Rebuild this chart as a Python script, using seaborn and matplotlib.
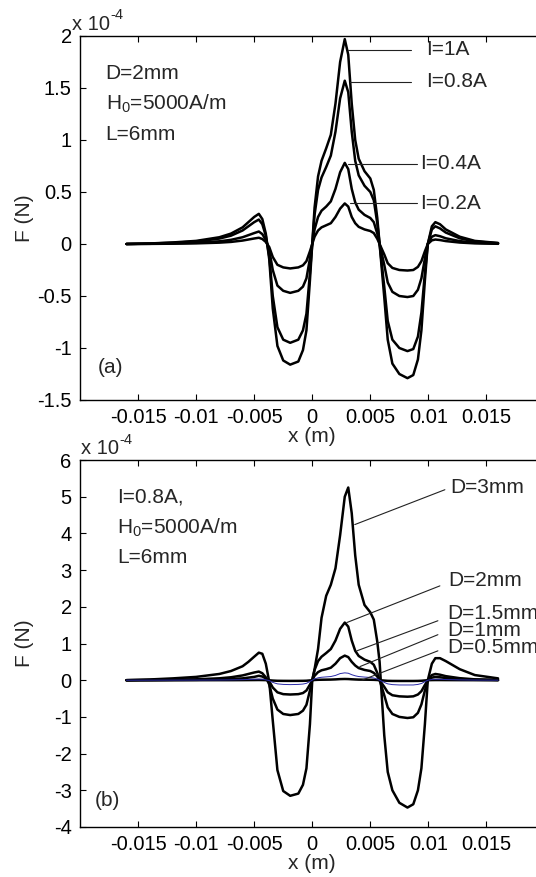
import numpy as np
import pandas as pd
import matplotlib
matplotlib.use('Agg')
import matplotlib.pyplot as plt
import seaborn as sns

# x positions (m), shared by every curve
x_m = [-0.016, -0.014, -0.012, -0.010, -0.008, -0.007, -0.006, -0.0055, -0.005, -0.0046,
       -0.0043, -0.004, -0.0037, -0.0034, -0.003, -0.0025, -0.0019, -0.0012, -0.0008, -0.0005,
       -0.0002, 0.0, 0.0002, 0.0005, 0.0008, 0.0012, 0.0016, 0.002, 0.0024, 0.0028,
       0.0031, 0.0034, 0.0037, 0.004, 0.0045, 0.005, 0.0053, 0.0056, 0.0058, 0.0062,
       0.0065, 0.0069, 0.0075, 0.0082, 0.0087, 0.0091, 0.0094, 0.0097, 0.00995, 0.0103,
       0.0106, 0.011, 0.0115, 0.0127, 0.014, 0.016]

# panel (a): force in units of 1e-4 N, one list per current
f_i1 = [0.0, 0.005, 0.015, 0.03, 0.065, 0.1, 0.16, 0.21, 0.26, 0.29,
        0.24, 0.1, -0.15, -0.62, -0.98, -1.12, -1.16, -1.13, -1.02, -0.83,
        -0.35, 0.0, 0.35, 0.65, 0.8, 0.92, 1.05, 1.35, 1.75, 1.97,
        1.82, 1.35, 1.0, 0.82, 0.7, 0.63, 0.52, 0.25, 0.0, -0.51,
        -0.92, -1.15, -1.25, -1.29, -1.26, -1.11, -0.83, -0.35, 0.0, 0.17,
        0.21, 0.19, 0.14, 0.07, 0.03, 0.01]
f_i08 = [0.0, 0.004, 0.012, 0.024, 0.052, 0.08, 0.13, 0.17, 0.21, 0.235,
         0.19, 0.08, -0.12, -0.5, -0.8, -0.92, -0.95, -0.92, -0.83, -0.67,
         -0.28, 0.0, 0.28, 0.52, 0.64, 0.74, 0.85, 1.08, 1.4, 1.57,
         1.46, 1.08, 0.8, 0.66, 0.56, 0.5, 0.42, 0.2, 0.0, -0.41,
         -0.74, -0.92, -1.0, -1.03, -1.01, -0.89, -0.66, -0.28, 0.0, 0.14,
         0.17, 0.15, 0.11, 0.055, 0.024, 0.008]
f_i04 = [0.0, 0.002, 0.006, 0.012, 0.026, 0.04, 0.065, 0.085, 0.105, 0.12,
         0.095, 0.04, -0.06, -0.25, -0.4, -0.45, -0.47, -0.45, -0.41, -0.33,
         -0.14, 0.0, 0.14, 0.26, 0.32, 0.36, 0.41, 0.53, 0.69, 0.78,
         0.72, 0.53, 0.4, 0.33, 0.28, 0.25, 0.21, 0.1, 0.0, -0.2,
         -0.37, -0.46, -0.5, -0.51, -0.5, -0.44, -0.33, -0.14, 0.0, 0.07,
         0.085, 0.075, 0.055, 0.028, 0.012, 0.004]
f_i02 = [0.0, 0.001, 0.003, 0.006, 0.013, 0.02, 0.033, 0.043, 0.053, 0.06,
         0.048, 0.02, -0.03, -0.125, -0.2, -0.225, -0.235, -0.225, -0.205, -0.165,
         -0.07, 0.0, 0.07, 0.13, 0.16, 0.18, 0.2, 0.26, 0.34, 0.39,
         0.36, 0.26, 0.2, 0.165, 0.14, 0.125, 0.105, 0.05, 0.0, -0.1,
         -0.185, -0.23, -0.25, -0.255, -0.25, -0.22, -0.165, -0.07, 0.0, 0.035,
         0.043, 0.038, 0.028, 0.014, 0.006, 0.002]

# panel (b): force in units of 1e-4 N, one list per diameter
f_d3 = [0.0, 0.02, 0.05, 0.09, 0.17, 0.25, 0.38, 0.5, 0.64, 0.75,
        0.72, 0.45, -0.05, -1.1, -2.45, -3.02, -3.15, -3.09, -2.85, -2.4,
        -1.2, 0.0, 0.3, 0.85, 1.7, 2.3, 2.6, 3.05, 3.95, 5.0,
        5.25, 4.55, 3.4, 2.6, 2.05, 1.85, 1.65, 1.05, 0.5, -1.5,
        -2.5, -3.0, -3.34, -3.47, -3.38, -3.0, -2.4, -1.2, 0.0, 0.45,
        0.6, 0.6, 0.52, 0.3, 0.14, 0.05]
f_d2 = [0.0, 0.004, 0.012, 0.024, 0.052, 0.08, 0.13, 0.17, 0.21, 0.235,
        0.19, 0.08, -0.12, -0.5, -0.8, -0.92, -0.95, -0.92, -0.83, -0.67,
        -0.28, 0.0, 0.28, 0.52, 0.64, 0.74, 0.85, 1.08, 1.4, 1.57,
        1.46, 1.08, 0.8, 0.66, 0.56, 0.5, 0.42, 0.2, 0.0, -0.41,
        -0.74, -0.92, -1.0, -1.03, -1.01, -0.89, -0.66, -0.28, 0.0, 0.14,
        0.17, 0.15, 0.11, 0.055, 0.024, 0.008]
f_d15 = [0.0, 0.002, 0.005, 0.01, 0.02, 0.032, 0.05, 0.07, 0.09, 0.12,
         0.1, 0.05, -0.03, -0.2, -0.33, -0.38, -0.39, -0.38, -0.35, -0.28,
         -0.12, 0.0, 0.12, 0.22, 0.27, 0.3, 0.34, 0.45, 0.6, 0.67,
         0.63, 0.5, 0.4, 0.33, 0.28, 0.25, 0.2, 0.1, 0.0, -0.18,
         -0.33, -0.41, -0.44, -0.45, -0.44, -0.39, -0.3, -0.13, 0.0, 0.07,
         0.09, 0.08, 0.06, 0.03, 0.012, 0.004]
f_d1 = [0.0, 0.001, 0.002, 0.003, 0.006, 0.009, 0.015, 0.02, 0.026, 0.03,
        0.025, 0.01, -0.01, -0.06, -0.1, -0.115, -0.12, -0.115, -0.105, -0.085,
        -0.035, 0.0, 0.035, 0.065, 0.08, 0.09, 0.1, 0.13, 0.18, 0.2,
        0.19, 0.15, 0.12, 0.1, 0.085, 0.075, 0.06, 0.03, 0.0, -0.06,
        -0.1, -0.12, -0.13, -0.13, -0.13, -0.115, -0.09, -0.04, 0.0, 0.02,
        0.026, 0.024, 0.018, 0.009, 0.004, 0.001]
f_d05 = [0.0, 0.0, 0.0, 0.0, 0.001, 0.001, 0.002, 0.003, 0.004, 0.005,
         0.004, 0.002, -0.002, -0.01, -0.016, -0.018, -0.019, -0.018, -0.017, -0.014,
         -0.006, 0.0, 0.006, 0.011, 0.013, 0.015, 0.017, 0.022, 0.03, 0.033,
         0.031, 0.025, 0.02, 0.016, 0.014, 0.012, 0.01, 0.005, 0.0, -0.01,
         -0.017, -0.02, -0.021, -0.021, -0.021, -0.019, -0.015, -0.007, 0.0, 0.003,
         0.004, 0.004, 0.003, 0.0015, 0.0006, 0.0002]

current_labels = ['I=1A', 'I=0.8A', 'I=0.4A', 'I=0.2A']
diameter_labels = ['D=3mm', 'D=2mm', 'D=1.5mm', 'D=1mm', 'D=0.5mm']

xticks = [-0.015, -0.01, -0.005, 0, 0.005, 0.01, 0.015]
xtick_labels = ['-0.015', '-0.01', '-0.005', '0', '0.005', '0.01', '0.015']
yticks_a = [-1.5, -1, -0.5, 0, 0.5, 1, 1.5, 2]
yticks_b = [-4, -3, -2, -1, 0, 1, 2, 3, 4, 5, 6]

sns.set_style('ticks')
plt.rcParams['font.family'] = ['Liberation Sans', 'DejaVu Sans']
plt.rcParams['axes.unicode_minus'] = False
plt.rcParams['mathtext.fontset'] = 'custom'
plt.rcParams['mathtext.rm'] = 'Liberation Sans'
plt.rcParams['mathtext.it'] = 'Liberation Sans:italic'
plt.rcParams['mathtext.bf'] = 'Liberation Sans:bold'

W, H = 536, 877
fig = plt.figure(figsize=(W / 100, H / 100), dpi=100)
ax1 = fig.add_axes([80 / W, 1 - 400 / H, 464.5 / W, 364 / H])
ax2 = fig.add_axes([80 / W, 1 - 827 / H, 464.5 / W, 367 / H])

df_a = pd.DataFrame({'x': x_m * 4,
                     'F': f_i1 + f_i08 + f_i04 + f_i02,
                     'I': np.repeat(current_labels, len(x_m))})
sns.lineplot(data=df_a, x='x', y='F', hue='I', palette=['black'] * 4,
             estimator=None, sort=False, linewidth=1.8, legend=False, ax=ax1)

df_b = pd.DataFrame({'x': x_m * 4,
                     'F': f_d3 + f_d2 + f_d15 + f_d05,
                     'D': np.repeat(['D=3mm', 'D=2mm', 'D=1.5mm', 'D=0.5mm'], len(x_m))})
sns.lineplot(data=df_b, x='x', y='F', hue='D', palette=['black'] * 4,
             estimator=None, sort=False, linewidth=1.8, legend=False, ax=ax2)
sns.lineplot(x=x_m, y=f_d1, color='#2a2aa8', linewidth=0.7, estimator=None,
             sort=False, ax=ax2)


def style_axes(ax, ylim, yticks):
    ax.set_xlim(-0.02, 0.02)
    ax.set_ylim(*ylim)
    ax.set_xticks(xticks)
    ax.set_xticklabels(xtick_labels)
    ax.set_yticks(yticks)
    ax.set_yticklabels(['%g' % t for t in yticks])
    ax.tick_params(direction='in', length=4, width=0.8, top=True, right=True,
                   labelsize=14.5, pad=6, colors='black')
    for s in ax.spines.values():
        s.set_linewidth(1.0)
        s.set_color('black')
    ax.set_xlabel('x (m)', fontsize=15, labelpad=0)
    ax.set_ylabel('F (N)', fontsize=15)
    ax.yaxis.set_label_coords(-0.098, 0.5)


style_axes(ax1, (-1.5, 2), yticks_a)
style_axes(ax2, (-4, 6), yticks_b)

# panel (a) annotations
txt = dict(fontsize=15, va='center', ha='left')
ax1.text(-0.0178, 1.64, 'D=2mm', **txt)
ax1.text(-0.0178, 1.35, 'H$_0$=5000A/m', **txt)
ax1.text(-0.0178, 1.05, 'L=6mm', **txt)
ax1.text(-0.0185, -1.19, '(a)', **txt)

leaders_a = [((0.00306, 0.0085), 1.87, 0.00978),
             ((0.00323, 0.0085), 1.56, 0.00978),
             ((0.00306, 0.0090), 0.77, 0.00927),
             ((0.00323, 0.0090), 0.39, 0.00927)]
for lab, (xs, yv, xt) in zip(current_labels, leaders_a):
    ax1.plot(xs, [yv, yv], color='#222222', lw=0.8)
    ax1.text(xt, yv, lab, **txt)

# panel (b) annotations
ax2.text(-0.0168, 5.0, 'I=0.8A,', **txt)
ax2.text(-0.0168, 4.16, 'H$_0$=5000A/m', **txt)
ax2.text(-0.0168, 3.34, 'L=6mm', **txt)
ax2.text(-0.0187, -3.28, '(b)', **txt)

leaders_b = [((0.00366, 0.01142), (4.24, 5.19), (0.01185, 5.25)),
             ((0.00297, 0.01099), (1.57, 2.57), (0.01168, 2.71)),
             ((0.00384, 0.01082), (0.80, 1.62), (0.0116, 1.81)),
             ((0.0041, 0.01082), (0.37, 1.24), (0.0116, 1.35)),
             ((0.00427, 0.01082), (0.0, 0.8), (0.0116, 0.89))]
for lab, (xs, ys, pos) in zip(diameter_labels, leaders_b):
    ax2.plot(xs, ys, color='#222222', lw=0.8)
    ax2.text(pos[0], pos[1], lab, clip_on=False, **txt)

# exponent labels (MATLAB style)
for base_x, base_y in [(72, 24), (81, 449)]:
    fig.text(base_x / W, 1 - base_y / H, 'x 10', fontsize=14.5, va='center', ha='left')
    fig.text((base_x + 38) / W, 1 - (base_y - 9) / H, '-4', fontsize=10.5,
             va='center', ha='left')

fig.savefig('out.png', dpi=100)
